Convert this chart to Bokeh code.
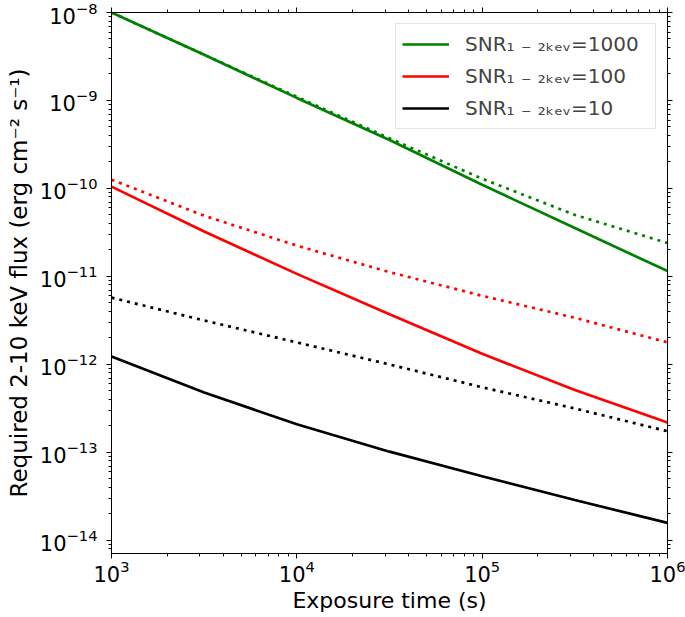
from bokeh.plotting import figure
from bokeh.models import LogAxis, FixedTicker, Legend, LegendItem, Range1d, CustomJSTickFormatter
from bokeh.embed import file_html
from bokeh.resources import INLINE

# Exposure time (s)
exposure = [1000, 3162, 10000, 31623, 100000, 316228, 1000000]

# Required 2-10 keV flux (erg cm^-2 s^-1)
snr1000_solid = [1.0e-8, 3.31e-9, 1.07e-9, 3.55e-10, 1.10e-10, 3.55e-11, 1.15e-11]
snr1000_dotted = [1.0e-8, 3.31e-9, 1.10e-9, 3.72e-10, 1.29e-10, 5.01e-11, 2.40e-11]
snr100_solid = [1.05e-10, 3.24e-11, 1.07e-11, 3.72e-12, 1.32e-12, 5.13e-13, 2.19e-13]
snr100_dotted = [1.26e-10, 4.90e-11, 2.24e-11, 1.12e-11, 6.03e-12, 3.39e-12, 1.78e-12]
snr10_solid = [1.23e-12, 4.79e-13, 2.09e-13, 1.02e-13, 5.37e-14, 2.88e-14, 1.58e-14]
snr10_dotted = [5.75e-12, 3.16e-12, 1.78e-12, 1.0e-12, 5.50e-13, 3.16e-13, 1.74e-13]

legend_labels = ["SNR\u2081 \u208b \u2082\u2096\u2091\u1d65=1000",
                 "SNR\u2081 \u208b \u2082\u2096\u2091\u1d65=100",
                 "SNR\u2081 \u208b \u2082\u2096\u2091\u1d65=10"]
colors = ["green", "red", "black"]

x_major = [1e3, 1e4, 1e5, 1e6]
y_major = [1e-14, 1e-13, 1e-12, 1e-11, 1e-10, 1e-9, 1e-8]
x_minor = [m * d for d in [1e3, 1e4, 1e5] for m in range(2, 10)]
y_minor = [m * d for d in [1e-15, 1e-14, 1e-13, 1e-12, 1e-11, 1e-10, 1e-9] for m in range(2, 10)]

FONT = "DejaVu Sans"

p = figure(width=685, height=617, x_axis_type="log", y_axis_type="log",
           x_range=Range1d(1e3, 1e6), y_range=Range1d(7.1e-15, 1e-8),
           output_backend="svg", toolbar_location=None,
           min_border_left=111, min_border_right=18, min_border_top=12, min_border_bottom=64,
           x_axis_label="Exposure time (s)",
           y_axis_label="Required 2-10 keV flux (erg cm\u207b\u00b2 s\u207b\u00b9)")
p.xgrid.visible = False
p.ygrid.visible = False
p.outline_line_color = "black"
p.outline_line_width = 1
p.background_fill_color = "white"
p.border_fill_color = "white"

xt = FixedTicker(ticks=x_major, minor_ticks=x_minor)
yt = FixedTicker(ticks=y_major, minor_ticks=y_minor)

blank = CustomJSTickFormatter(code="return ''")
p.add_layout(LogAxis(formatter=blank), "above")
p.add_layout(LogAxis(formatter=blank), "right")

for ax in p.xaxis:
    ax.ticker = xt
for ax in p.yaxis:
    ax.ticker = yt

for ax in p.axis:
    ax.axis_line_color = "black"
    ax.axis_line_width = 1
    ax.major_tick_line_color = "black"
    ax.minor_tick_line_color = "black"
    ax.major_tick_in = 0
    ax.major_tick_out = 5
    ax.minor_tick_in = 0
    ax.minor_tick_out = 3
    ax.major_label_text_font = FONT
    ax.major_label_text_font_size = "21px"
    ax.major_label_text_color = "black"
    ax.axis_label_text_font = FONT
    ax.axis_label_text_font_size = "23px"
    ax.axis_label_text_font_style = "normal"
    ax.axis_label_text_color = "black"

p.below[0].axis_label_text_font_size = "22px"
p.below[0].major_label_standoff = 1
p.below[0].axis_label_standoff = 3
p.left[0].major_label_standoff = 9
p.left[0].axis_label_standoff = 5

for ax in [p.above[0], p.right[0]]:
    ax.major_label_text_font_size = "2px"
    ax.major_label_standoff = 0

series = [(snr1000_solid, snr1000_dotted), (snr100_solid, snr100_dotted), (snr10_solid, snr10_dotted)]
items = []
for (solid, dotted), col, lab in zip(series, colors, legend_labels):
    p.line(exposure, dotted, line_color=col, line_width=2.7, line_dash="3 5", line_cap="butt")
    r = p.line(exposure, solid, line_color=col, line_width=2.7)
    items.append(LegendItem(label=lab, renderers=[r]))

legend = Legend(items=items, location="top_right")
legend.label_text_font = FONT
legend.label_text_font_size = "20px"
legend.glyph_width = 47
legend.glyph_height = 28
legend.label_height = 28
legend.label_width = 184
legend.spacing = 4
legend.label_standoff = 16
legend.padding = 6
legend.margin = 11
legend.border_line_color = "#cccccc"
legend.border_line_width = 1
legend.background_fill_alpha = 0.8
p.add_layout(legend)

open("out.html", "w").write(file_html(p, INLINE))
